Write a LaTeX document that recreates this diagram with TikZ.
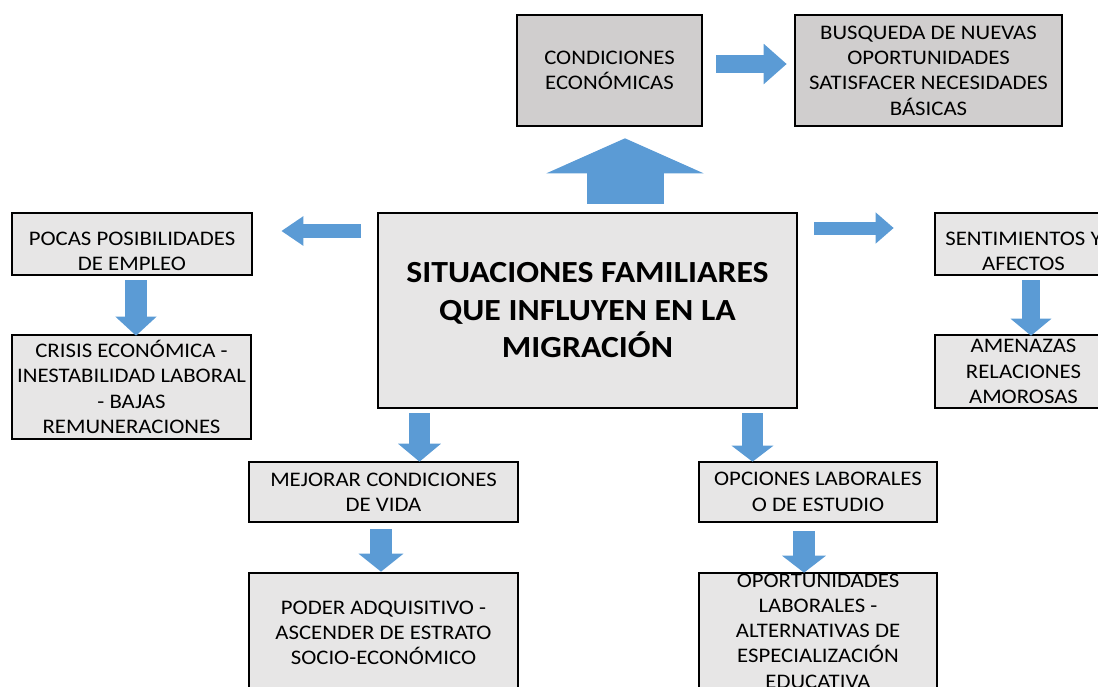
\documentclass[tikz,border=0pt]{standalone}
\usepackage{fontspec}
\setmainfont{Carlito}[FakeStretch=1.1]
\usetikzlibrary{arrows.meta}
\definecolor{grisclaro}{HTML}{E7E6E6}
\definecolor{grisosc}{HTML}{D0CECE}
\definecolor{azul}{HTML}{5B9BD5}
\tikzset{
  caja/.style={draw, line width=2.6pt, fill=grisclaro, inner sep=0pt, align=center,
    font=\fontsize{20.7}{25.3}\selectfont},
  cajaosc/.style={caja, fill=grisosc},
  flecha/.style n args={3}{draw=azul, line width=#1, -{Triangle[width=#2,length=#3]}}
}
\begin{document}
\begin{tikzpicture}[x=1pt,y=-1pt]
  \path[use as bounding box] (0,0) rectangle (1098,686);
  \clip (0,0) rectangle (1098,686);
  \node[caja, minimum width=419pt, minimum height=195pt,
    font=\bfseries\fontsize{30.7}{37.5}\selectfont] (sit) at (587.5,310.5)
    {SITUACIONES FAMILIARES\\QUE INFLUYEN EN LA\\MIGRACIÓN};
  \node[cajaosc, minimum width=185pt, minimum height=111pt] (econ) at (609.5,70.5)
    {CONDICIONES\\ECONÓMICAS};
  \node[cajaosc, minimum width=267pt, minimum height=111pt] (busq) at (928.5,70.5)
    {BUSQUEDA DE NUEVAS\\OPORTUNIDADES\\SATISFACER NECESIDADES\\BÁSICAS};
  \node[caja, minimum width=240pt, minimum height=62pt] (pocas) at (132,244)
    {\rule{0pt}{28pt}POCAS POSIBILIDADES\\DE EMPLEO};
  \node[caja, minimum width=239pt, minimum height=104pt] (crisis) at (131.5,387)
    {CRISIS ECONÓMICA -\\INESTABILIDAD LABORAL\\- BAJAS\\REMUNERACIONES};
  \node[caja, minimum width=177pt, minimum height=62pt] (sent) at (1023.5,244)
    {\rule{0pt}{28pt}SENTIMIENTOS Y\\AFECTOS};
  \node[caja, minimum width=177pt, minimum height=73pt] (amen) at (1023.5,371.5)
    {AMENAZAS\\RELACIONES\\AMOROSAS};
  \node[caja, minimum width=269pt, minimum height=60pt] (mejor) at (383.5,492)
    {MEJORAR CONDICIONES\\DE VIDA};
  \node[caja, minimum width=269pt, minimum height=120pt] (poder) at (383.5,633)
    {PODER ADQUISITIVO -\\ASCENDER DE ESTRATO\\SOCIO-ECONÓMICO};
  \node[caja, minimum width=238pt, minimum height=60pt] (opc) at (818,492)
    {OPCIONES LABORALES\\O DE ESTUDIO};
  \node[caja, minimum width=238pt, minimum height=116pt] (oport) at (818,631)
    {OPORTUNIDADES\\LABORALES -\\ALTERNATIVAS DE\\ESPECIALIZACIÓN\\EDUCATIVA};

  % flechas de bloque
  \draw[flecha={77pt}{156pt}{35pt}, shorten <=8pt, shorten >=11pt]
    ([xshift=37.5pt]sit.north) -- ([xshift=15.5pt]econ.south);
  \draw[flecha={18pt}{39pt}{23pt}, shorten <=13pt, shorten >=7pt]
    ([yshift=6.5pt]econ.east) -- ([yshift=6.5pt]busq.west);
  \draw[flecha={14pt}{28pt}{22pt}, shorten <=16pt, shorten >=28pt]
    ([yshift=79.5pt]sit.west) -- ([yshift=13pt]pocas.east);
  \draw[flecha={13pt}{30pt}{18pt}, shorten <=16pt, shorten >=40pt]
    ([yshift=82.5pt]sit.east) -- ([yshift=16pt]sent.west);
  \draw[flecha={22pt}{40pt}{19pt}, shorten <=4pt, shorten >=-2pt]
    ([xshift=4pt]pocas.south) -- ([xshift=4.5pt]crisis.north);
  \draw[flecha={18pt}{40pt}{17pt}, shorten <=4pt, shorten >=-2pt]
    ([xshift=7.5pt]sent.south) -- ([xshift=7.5pt]amen.north);
  \draw[flecha={21pt}{42pt}{18pt}, shorten <=4pt, shorten >=-1pt]
    ([xshift=-168pt]sit.south) -- ([xshift=36pt]mejor.north);
  \draw[flecha={21pt}{41pt}{16pt}, shorten <=4pt, shorten >=-1pt]
    ([xshift=165pt]sit.south) -- ([xshift=-65.5pt]opc.north);
  \draw[flecha={22pt}{44pt}{18pt}, shorten <=6pt]
    ([xshift=-2.5pt]mejor.south) -- ([xshift=-2.5pt]poder.north);
  \draw[flecha={22pt}{43pt}{17pt}, shorten <=8pt, shorten >=-1pt]
    ([xshift=-14pt]opc.south) -- ([xshift=-14pt]oport.north);
\end{tikzpicture}
\end{document}
